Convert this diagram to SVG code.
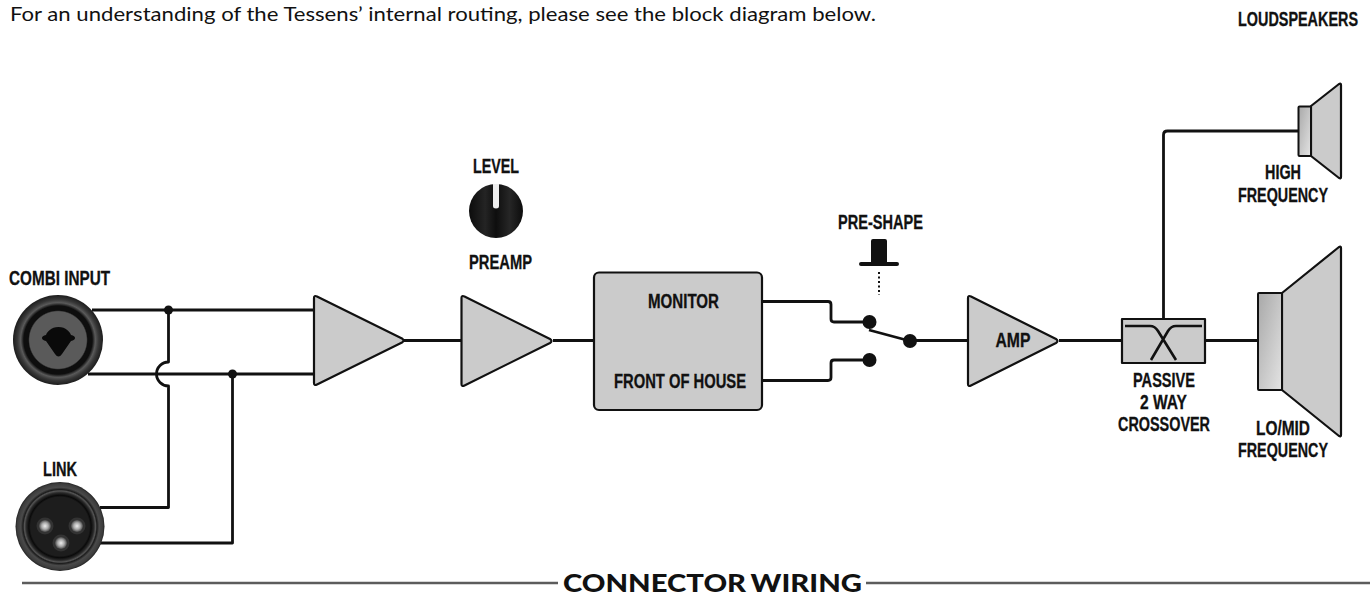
<svg xmlns="http://www.w3.org/2000/svg" width="1370" height="595" viewBox="0 0 1370 595">
<defs>
<linearGradient id="g1" x1="0" y1="0" x2="1" y2="1"><stop offset="0" stop-color="#a8a8a8"/><stop offset="1" stop-color="#e4e4e4"/></linearGradient>
<radialGradient id="pin"><stop offset="0" stop-color="#eee"/><stop offset=".55" stop-color="#aaa"/><stop offset="1" stop-color="#4a4a4a"/></radialGradient>
<linearGradient id="knob" x1="0" y1="0" x2="1" y2="0"><stop offset="0" stop-color="#0c0c0c"/><stop offset=".3" stop-color="#242424"/><stop offset=".5" stop-color="#0e0e0e"/><stop offset=".75" stop-color="#262626"/><stop offset="1" stop-color="#0c0c0c"/></linearGradient>
<radialGradient id="combi"><stop offset="0" stop-color="#5a5a5a"/><stop offset=".63" stop-color="#5a5a5a"/><stop offset=".66" stop-color="#0e0e0e"/><stop offset=".76" stop-color="#0e0e0e"/><stop offset=".83" stop-color="#5a5a5a"/><stop offset=".9" stop-color="#383838"/><stop offset="1" stop-color="#1c1c1c"/></radialGradient>
<radialGradient id="xlr"><stop offset="0" stop-color="#1d1d1d"/><stop offset=".66" stop-color="#1d1d1d"/><stop offset=".7" stop-color="#0a0a0a"/><stop offset=".76" stop-color="#2a2a2a"/><stop offset=".8" stop-color="#555"/><stop offset=".83" stop-color="#1c1c1c"/><stop offset=".88" stop-color="#4a4a4a"/><stop offset=".96" stop-color="#3c3c3c"/><stop offset="1" stop-color="#222"/></radialGradient>
</defs>
<style>
.t{font-family:"Liberation Sans Narrow","Liberation Sans",Arial,sans-serif;font-weight:700;font-size:19.500px;fill:#111;text-anchor:middle;stroke:#111;stroke-width:.3}
.w{fill:none;stroke:#111;stroke-width:2.800;stroke-linejoin:round}
.s{fill:#cbcbcb;stroke:#111;stroke-width:2.200;stroke-linejoin:round}
.d{fill:#111}
.f{font-family:Lato,"Open Sans",sans-serif;fill:#111}
</style>
<rect width="1370" height="595" fill="#fff"/>
<text id="intro" class="f" x="10" y="21" textLength="866" lengthAdjust="spacingAndGlyphs" style="font-size:20px">For an understanding of the Tessens’ internal routing, please see the block diagram below.</text>
<text id="loudspeakers" class="t" x="1358" y="26" textLength="120" lengthAdjust="spacingAndGlyphs" style="text-anchor:end">LOUDSPEAKERS</text>

<g id="connectors">
<path class="w" d="M92 310H314M88 374H314"/>
<path class="w" d="M168.500 310V362A12 12 0 0 0 156.500 374A12 12 0 0 0 168.500 386V507.500H100"/>
<path class="w" d="M232.500 374V543H100"/>
<path class="w" d="M404 340.500H462M553 340.500H595"/>
<path class="w" d="M761 301.500H828Q831 301.500 831 304.500V319Q831 322 834 322H870"/>
<path class="w" d="M761 380.500H828Q831 380.500 831 377.500V363Q831 360 834 360H870"/>
<path class="w" d="M869 330L910 341"/>
<path class="w" d="M910 340.500H968M1059 340.500H1122M1204 340.500H1258"/>
<path class="w" d="M1163.500 320V135Q1163.500 131 1167.500 131H1299"/>
</g>

<g id="combi-input">
<circle cx="58" cy="340" r="45" fill="url(#combi)"/>
<path d="M58.500 327C66 327 70 332 71 335Q75 336 75 338Q75 340 71 341L62 354Q58.500 359 55 354L46 341Q42 340 42 338Q42 336 46 335C47 332 51 327 58.500 327Z" fill="#0a0a0a"/>
<text class="t" x="59.500" y="285" textLength="101" lengthAdjust="spacingAndGlyphs">COMBI INPUT</text>
</g>
<g id="link">
<circle cx="60" cy="526.500" r="44.500" fill="url(#xlr)"/>
<circle cx="45" cy="526" r="8.500" fill="#333"/><circle cx="45" cy="526" r="6" fill="url(#pin)"/>
<circle cx="77" cy="526" r="8.500" fill="#333"/><circle cx="77" cy="526" r="6" fill="url(#pin)"/>
<circle cx="61" cy="543" r="8.500" fill="#333"/><circle cx="61" cy="543" r="6" fill="url(#pin)"/>
<text class="t" x="60" y="476" textLength="34" lengthAdjust="spacingAndGlyphs">LINK</text>
</g>
<g id="dots">
<circle class="d" cx="168.500" cy="310" r="4.500"/>
<circle class="d" cx="232.500" cy="374" r="4.500"/>
</g>
<g id="input-amp"><path class="s" d="M314 298Q314 295 317 296.500L402 338.500Q405 340.500 402 342.500L317 384.500Q314 386 314 383Z"/></g>
<g id="preamp">
<path class="s" d="M461.500 298Q461.500 295 464.500 296.500L550 339Q553 341 550 343L464.500 385.500Q461.500 387 461.500 384Z"/>
<text class="t" x="500.500" y="269" textLength="63" lengthAdjust="spacingAndGlyphs">PREAMP</text>
</g>
<g id="level">
<circle cx="496" cy="211" r="27" fill="url(#knob)"/>
<path d="M493 184H499V206Q499 208.500 496 208.500Q493 208.500 493 206Z" fill="#eee"/>
<text class="t" x="496" y="173" textLength="46" lengthAdjust="spacingAndGlyphs">LEVEL</text>
</g>
<g id="router">
<rect class="s" x="594" y="272.500" width="168" height="137.500" rx="5"/>
<text class="t" x="683.500" y="308" textLength="71" lengthAdjust="spacingAndGlyphs">MONITOR</text>
<text class="t" x="680" y="388" textLength="132" lengthAdjust="spacingAndGlyphs">FRONT OF HOUSE</text>
</g>
<g id="pre-shape">
<text class="t" x="880.500" y="229" textLength="85" lengthAdjust="spacingAndGlyphs">PRE-SHAPE</text>
<path class="d" d="M871 241Q871 239 873 239H885Q887 239 887 241V262H897Q899 262 899 264Q899 266 897 266H861Q859 266 859 264Q859 262 861 262H871Z"/>
<path d="M879 272V295" stroke="#111" stroke-width="2" stroke-dasharray="2 2.500" fill="none"/>
</g>
<g id="switch">
<circle class="d" cx="869.500" cy="322" r="7"/>
<circle class="d" cx="869.500" cy="360" r="7"/>
<circle class="d" cx="910" cy="341" r="7"/>
</g>
<g id="amp">
<path class="s" d="M968 298Q968 295 971 296.500L1056 339Q1059 341 1056 343L971 385.500Q968 387 968 384Z"/>
<text class="t" x="1013" y="347" textLength="35" lengthAdjust="spacingAndGlyphs">AMP</text>
</g>
<g id="crossover">
<rect class="s" x="1122" y="319" width="83" height="44"/>
<path d="M1125 326H1150Q1155 326 1158 331L1176 360M1202 326H1176Q1171 326 1168 331L1151 360" fill="none" stroke="#111" stroke-width="2.600"/>
<text class="t" x="1164" y="387" textLength="62" lengthAdjust="spacingAndGlyphs">PASSIVE</text>
<text class="t" x="1163.500" y="409" textLength="47" lengthAdjust="spacingAndGlyphs">2 WAY</text>
<text class="t" x="1164" y="431" textLength="92" lengthAdjust="spacingAndGlyphs">CROSSOVER</text>
</g>
<g id="high-frequency">
<path class="s" d="M1311 106L1339 84Q1341 83 1341 85V177Q1341 179 1339 178L1311 156Z"/>
<rect x="1298.500" y="106.500" width="12.500" height="49.500" rx="1" fill="url(#g1)" stroke="#111" stroke-width="2"/>
<text class="t" x="1283" y="179" textLength="36" lengthAdjust="spacingAndGlyphs">HIGH</text>
<text class="t" x="1283" y="202" textLength="90" lengthAdjust="spacingAndGlyphs">FREQUENCY</text>
</g>
<g id="lo-mid-frequency">
<path class="s" d="M1282 293L1339 247Q1341 246 1341 248V435Q1341 437 1339 436L1282 390Z"/>
<rect x="1258" y="293" width="24" height="97" rx="1" fill="url(#g1)" stroke="#111" stroke-width="2"/>
<text class="t" x="1283" y="435" textLength="54" lengthAdjust="spacingAndGlyphs">LO/MID</text>
<text class="t" x="1283" y="457" textLength="90" lengthAdjust="spacingAndGlyphs">FREQUENCY</text>
</g>
<g id="footer">
<path d="M22 583H558M866 583H1370" stroke="#5c5c5c" stroke-width="2.400" fill="none"/>
<text class="f" x="563" y="592" textLength="299" lengthAdjust="spacingAndGlyphs" style="font-weight:900;font-size:25px;word-spacing:-2px">CONNECTOR WIRING</text>
</g>
</svg>
